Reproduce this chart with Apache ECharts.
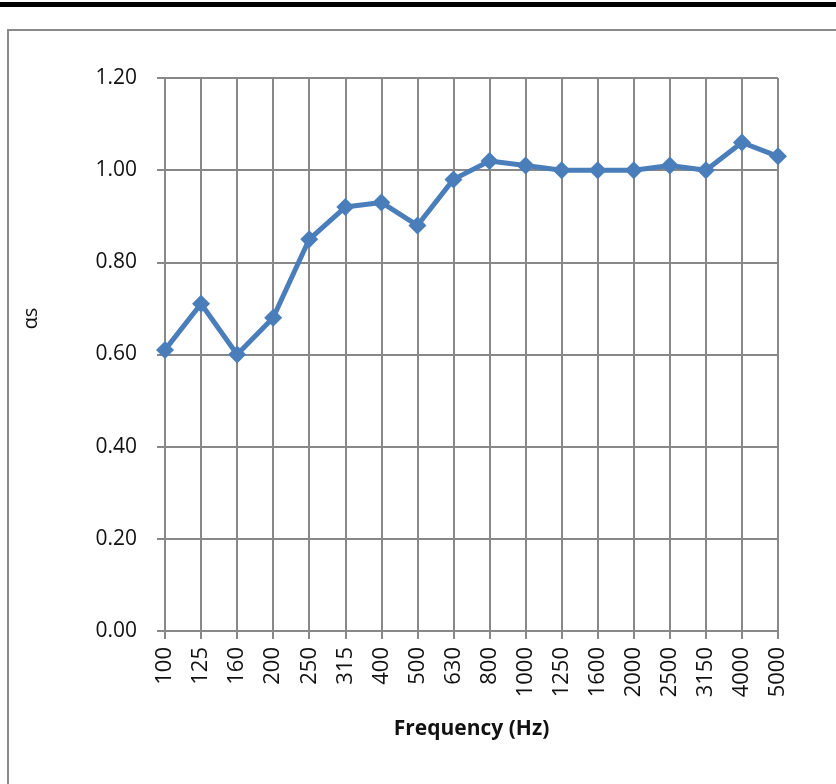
<!DOCTYPE html>
<html><head><meta charset="utf-8">
<script src="https://cdn.jsdelivr.net/npm/echarts@6/dist/echarts.min.js"></script>
<style>html,body{margin:0;padding:0;background:#fff}#c{width:836px;height:784px}</style>
</head><body><div id="c"></div>
<script>
const categories = ['100','125','160','200','250','315','400','500','630','800','1000','1250','1600','2000','2500','3150','4000','5000'];
const alphaS = [0.61,0.71,0.60,0.68,0.85,0.92,0.93,0.88,0.98,1.02,1.01,1.00,1.00,1.00,1.01,1.00,1.06,1.03];
const yTicks = {min:0, max:1.2, interval:0.2};

const chart = echarts.init(document.getElementById('c'), null, {renderer:'canvas'});
const gridColor = '#888888';
const font = '"Open Sans", "Liberation Sans", sans-serif';
chart.setOption({
  animation:false,
  backgroundColor:'#fff',
  graphic:[
    {type:'rect', shape:{x:0,y:2,width:836,height:5}, style:{fill:'#000'}, silent:true},
    {type:'rect', shape:{x:8,y:30,width:840,height:780}, style:{fill:'none', stroke:'#8a8a8a', lineWidth:2}, silent:true}
  ],
  grid:{left:165, right:58, top:78, bottom:153, containLabel:false},
  xAxis:{
    type:'category', data:categories, boundaryGap:false,
    name:'Frequency (Hz)', nameLocation:'middle', nameGap:88,
    nameTextStyle:{fontFamily:font, fontSize:21, fontWeight:'bold', color:'#111'},
    axisLine:{lineStyle:{color:gridColor, width:2}},
    axisTick:{show:true, length:8, interval:0, lineStyle:{color:gridColor, width:2}},
    axisLabel:{rotate:90, interval:0, margin:16, fontFamily:font, fontSize:22, color:'#111'},
    splitLine:{show:true, interval:0, lineStyle:{color:gridColor, width:2}}
  },
  yAxis:{
    type:'value', min:yTicks.min, max:yTicks.max, interval:yTicks.interval,
    name:'αs', nameLocation:'middle', nameGap:124, nameRotate:90,
    nameTextStyle:{fontFamily:font, fontSize:20, color:'#111', padding:[0,0,0,72]},
    axisLine:{show:true, lineStyle:{color:gridColor, width:2}},
    axisTick:{show:true, length:8, lineStyle:{color:gridColor, width:2}},
    axisLabel:{margin:28, fontFamily:font, fontSize:21, color:'#111', formatter:v=>v.toFixed(2)},
    splitLine:{show:true, lineStyle:{color:gridColor, width:2}}
  },
  series:[{
    type:'line', data:alphaS,
    symbol:'diamond', symbolSize:18,
    lineStyle:{color:'#4a7ebb', width:5},
    itemStyle:{color:'#4a7ebb'}
  }]
});
</script></body></html>
